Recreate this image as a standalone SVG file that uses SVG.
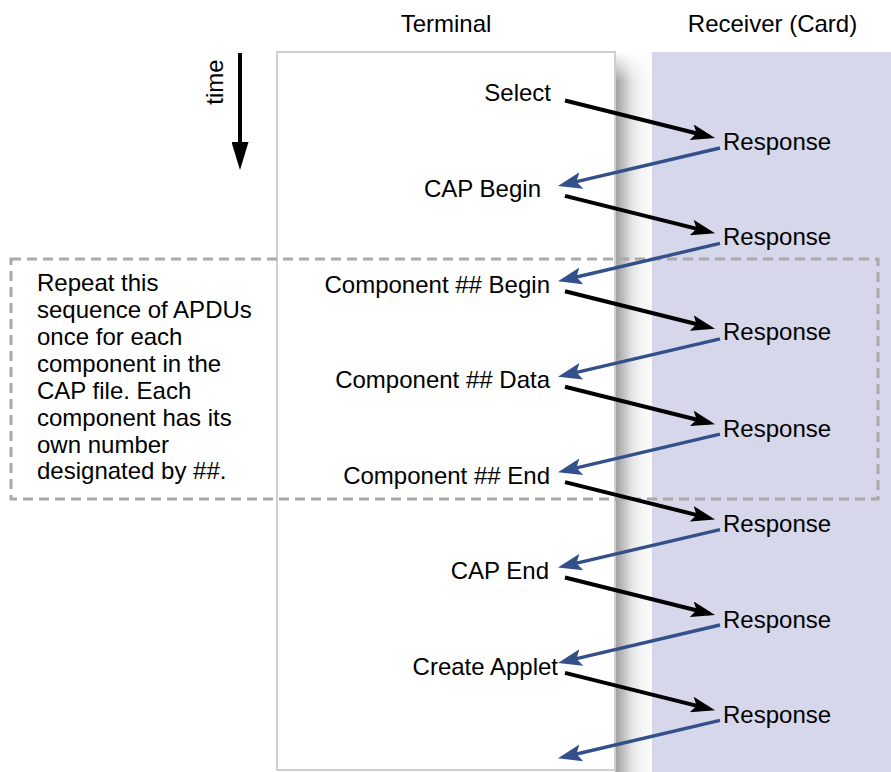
<svg xmlns="http://www.w3.org/2000/svg" width="891" height="772" viewBox="0 0 891 772">
  <style>
    text { font-family: "Liberation Sans", Arial, sans-serif; font-size: 24px; fill: #000; }
    .end { text-anchor: end; }
    .req { stroke: #000; stroke-width: 4; fill: none; }
    .rsp { stroke: #34508a; stroke-width: 3.4; fill: none; }
  </style>
  <defs>
    <marker id="headBlack" markerUnits="userSpaceOnUse" viewBox="0 0 24 16" refX="18" refY="8" markerWidth="24" markerHeight="16" orient="auto">
      <path d="M0,0 L24,8 L0,16 L5,8 z" fill="#000"/>
    </marker>
    <marker id="headBlue" markerUnits="userSpaceOnUse" viewBox="0 0 24 18" refX="18" refY="9" markerWidth="24" markerHeight="18" orient="auto">
      <path d="M0,0.5 L24,9 L0,17.5 L5,9 z" fill="#34508a"/>
    </marker>
    <marker id="headTime" markerUnits="userSpaceOnUse" viewBox="0 0 28 17" refX="22" refY="8.5" markerWidth="28" markerHeight="17" orient="auto">
      <path d="M0,0 L28,8.5 L0,17 z" fill="#000"/>
    </marker>
    <linearGradient id="shadowGrad" x1="0" y1="0" x2="1" y2="0">
      <stop offset="0" stop-color="#9c9c9c"/>
      <stop offset="0.18" stop-color="#b8b8b8"/>
      <stop offset="0.45" stop-color="#e4e4e4"/>
      <stop offset="0.75" stop-color="#f7f7f7"/>
      <stop offset="1" stop-color="#fafafa"/>
    </linearGradient>
    <linearGradient id="shadowFade" x1="0" y1="0" x2="0" y2="1">
      <stop offset="0" stop-color="#fff" stop-opacity="0"/>
      <stop offset="1" stop-color="#fff" stop-opacity="1"/>
    </linearGradient>
    <mask id="shadowMask">
      <rect x="600" y="52" width="60" height="30" fill="url(#shadowFade)"/>
      <rect x="600" y="82" width="60" height="700" fill="#fff"/>
    </mask>
  </defs>

  <!-- lanes -->
  <g id="lanes">
    <rect x="652" y="52" width="239" height="720" fill="#d6d7ea"/>
    <rect x="615" y="52" width="37" height="720" fill="url(#shadowGrad)" mask="url(#shadowMask)"/>
    <rect x="277" y="52" width="338" height="718" fill="#fff" stroke="#cfcfcf" stroke-width="2"/>
  </g>

  <g id="headers">
    <text x="446" y="31.5" text-anchor="middle">Terminal</text>
    <text x="772.5" y="31.5" text-anchor="middle">Receiver (Card)</text>
  </g>

  <!-- time axis -->
  <g id="time">
    <line x1="240" y1="53" x2="240" y2="164" stroke="#000" stroke-width="4" marker-end="url(#headTime)"/>
    <text transform="translate(223,82) rotate(-90)" text-anchor="middle">time</text>
  </g>

  <!-- repeated component section -->
  <g id="repeat-note">
    <rect x="11" y="259" width="867" height="240" fill="none" stroke="#a9a9a9" stroke-width="3" stroke-dasharray="10 6"/>
    <text x="37" y="291">Repeat this</text>
    <text x="37" y="318">sequence of APDUs</text>
    <text x="37" y="345">once for each</text>
    <text x="37" y="372">component in the</text>
    <text x="37" y="399">CAP file. Each</text>
    <text x="37" y="426">component has its</text>
    <text x="37" y="453">own number</text>
    <text x="37" y="479">designated by ##.</text>
  </g>

  <!-- terminal commands -->
  <g id="cmd-select"><text class="end" x="551" y="100.5">Select</text></g>
  <g id="cmd-cap-begin"><text class="end" x="541" y="196.5">CAP Begin</text></g>
  <g id="cmd-comp-begin"><text class="end" x="550" y="292.5">Component ## Begin</text></g>
  <g id="cmd-comp-data"><text class="end" x="550" y="387.5">Component ## Data</text></g>
  <g id="cmd-comp-end"><text class="end" x="550" y="483.5">Component ## End</text></g>
  <g id="cmd-cap-end"><text class="end" x="549" y="578.5">CAP End</text></g>
  <g id="cmd-create-applet"><text class="end" x="558" y="674.5">Create Applet</text></g>

  <!-- card responses -->
  <g id="rsp-1"><text x="723" y="149.5">Response</text></g>
  <g id="rsp-2"><text x="723" y="244.5">Response</text></g>
  <g id="rsp-3"><text x="723" y="339.5">Response</text></g>
  <g id="rsp-4"><text x="723" y="436.5">Response</text></g>
  <g id="rsp-5"><text x="723" y="531.5">Response</text></g>
  <g id="rsp-6"><text x="723" y="627.5">Response</text></g>
  <g id="rsp-7"><text x="723" y="722.5">Response</text></g>

  <!-- APDU exchanges -->
  <g id="connectors">
    <path class="req" d="M565,100.5 L709.2,136.5" marker-end="url(#headBlack)"/>
    <path class="rsp" d="M720,148 L563.8,184.6" marker-end="url(#headBlue)"/>
    <path class="req" d="M565,195.9 L709.2,231.9" marker-end="url(#headBlack)"/>
    <path class="rsp" d="M720,243.4 L563.8,280" marker-end="url(#headBlue)"/>
    <path class="req" d="M565,291.3 L709.2,327.3" marker-end="url(#headBlack)"/>
    <path class="rsp" d="M720,338.8 L563.8,375.4" marker-end="url(#headBlue)"/>
    <path class="req" d="M565,386.7 L709.2,422.7" marker-end="url(#headBlack)"/>
    <path class="rsp" d="M720,434.2 L563.8,470.8" marker-end="url(#headBlue)"/>
    <path class="req" d="M565,482.1 L709.2,518.1" marker-end="url(#headBlack)"/>
    <path class="rsp" d="M720,529.6 L563.8,566.2" marker-end="url(#headBlue)"/>
    <path class="req" d="M565,577.5 L709.2,613.5" marker-end="url(#headBlack)"/>
    <path class="rsp" d="M720,625 L563.8,661.6" marker-end="url(#headBlue)"/>
    <path class="req" d="M565,672.9 L709.2,708.9" marker-end="url(#headBlack)"/>
    <path class="rsp" d="M720,720.4 L563.8,757" marker-end="url(#headBlue)"/>
  </g>
</svg>
